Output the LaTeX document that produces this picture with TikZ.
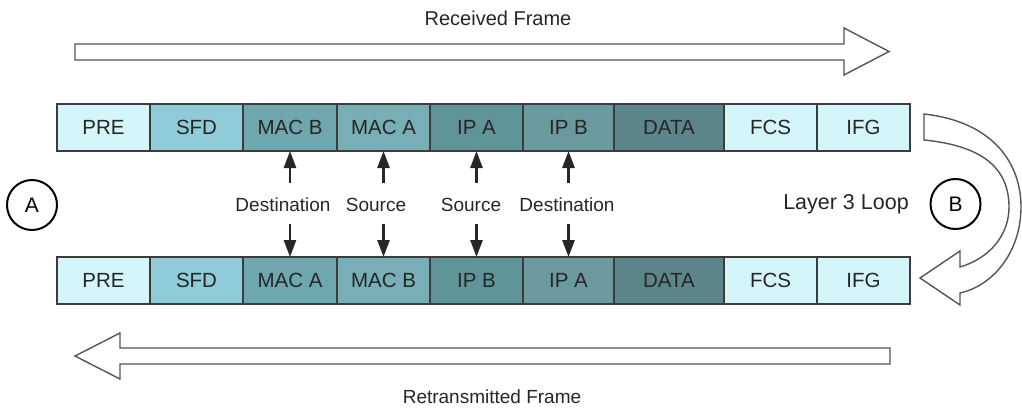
\documentclass[tikz,border=0pt]{standalone}
\usepackage{fontspec}
\setmainfont{Liberation Sans}
\usetikzlibrary{arrows.meta,calc}
\definecolor{cpre}{RGB}{212,245,250}
\definecolor{csfd}{RGB}{143,203,216}
\definecolor{cmacb}{RGB}{111,167,174}
\definecolor{cmaca}{RGB}{120,174,181}
\definecolor{cipa}{RGB}{95,149,153}
\definecolor{cipb}{RGB}{106,154,157}
\definecolor{cdata}{RGB}{92,133,137}
\definecolor{cedge}{RGB}{60,60,60}
\definecolor{cblock}{RGB}{85,85,85}
\begin{document}
\begin{tikzpicture}[x=1pt,y=-1pt,
  cell/.style={draw=cedge,line width=1.3pt,minimum height=47pt,inner sep=0pt,outer sep=0pt,
    font=\fontsize{20.5}{23}\selectfont,text=black!85},
  lbl/.style={font=\fontsize{19}{22}\selectfont,text=black!85,inner sep=0pt},
  ptr/.style={line width=2.6pt,draw=black!85,-{Triangle[length=17pt,width=12pt]}},
  blockarrow/.style={draw=cblock,line width=1.4pt,fill=white,line join=miter},
  letter/.style={draw=black,line width=2pt,circle,minimum size=50pt,inner sep=0pt,
    font=\fontsize{21}{23}\selectfont}]
\useasboundingbox (0,0) rectangle (1022,412);
% top row
\foreach \n/\l/\r/\c/\t in {t1/57/150/cpre/PRE,t2/150/243/csfd/SFD,t3/243/337/cmacb/MAC B,
  t4/337/430/cmaca/MAC A,t5/430/523/cipa/IP A,t6/523/614/cipb/IP B,t7/614/724/cdata/DATA,
  t8/724/817/cpre/FCS,t9/817/910/cpre/IFG}{
  \node[cell,fill=\c,minimum width={\r-\l}] (\n) at ({(\l+\r)/2},127.5) {\t};
}
% bottom row
\foreach \n/\l/\r/\c/\t in {b1/57/150/cpre/PRE,b2/150/243/csfd/SFD,b3/243/337/cmacb/MAC A,
  b4/337/430/cmaca/MAC B,b5/430/523/cipa/IP B,b6/523/614/cipb/IP A,b7/614/724/cdata/DATA,
  b8/724/817/cpre/FCS,b9/817/910/cpre/IFG}{
  \node[cell,fill=\c,minimum width={\r-\l}] (\n) at ({(\l+\r)/2},280.5) {\t};
}
% labels
\node[lbl] (d1) at (283,205) {Destination};
\node[lbl] (s1) at (376,205) {Source};
\node[lbl] (s2) at (471,205) {Source};
\node[lbl] (d2) at (567,205) {Destination};
\node[lbl,font=\fontsize{21.5}{24}\selectfont] (loop) at (846,204) {Layer 3 Loop};
\node[lbl,font=\fontsize{20}{22}\selectfont] (rx) at (498,18) {Received Frame};
\node[lbl] (tx) at (492,397) {Retransmitted Frame};
% pointer arrows
\foreach \t/\b in {t3/b3,t4/b4,t5/b5,t6/b6}{
  \coordinate (u\t) at ($(\t.south)+(0,32)$);
  \coordinate (d\b) at ($(\b.north)+(0,-33)$);
  \draw[ptr] (u\t) -- (\t.south);
  \draw[ptr] (d\b) -- (\b.north);
}
% circles
\node[letter] (A) at (32,205) {A};
\node[letter] (B) at (955.5,204) {B};
% received frame block arrow
\draw[blockarrow] (75,44) -- (844,44) -- (844,28) -- (889,51.5) -- (844,75) -- (844,60) -- (75,60) -- cycle;
% retransmitted frame block arrow
\draw[blockarrow] (890,348) -- (120,348) -- (120,333) -- (75,356) -- (120,379) -- (120,364) -- (890,364) -- cycle;
% layer 3 loop curved arrow
\draw[blockarrow] (924,114) .. controls (995,122) and (1021,165) .. (1021,207)
  .. controls (1021,250) and (995,285) .. (960,293)
  -- (960,305) -- (920,278) -- (960,251) -- (960,267)
  .. controls (990,258) and (1009,235) .. (1009,207)
  .. controls (1009,170) and (985,146) .. (924,140) -- cycle;
\end{tikzpicture}
\end{document}
